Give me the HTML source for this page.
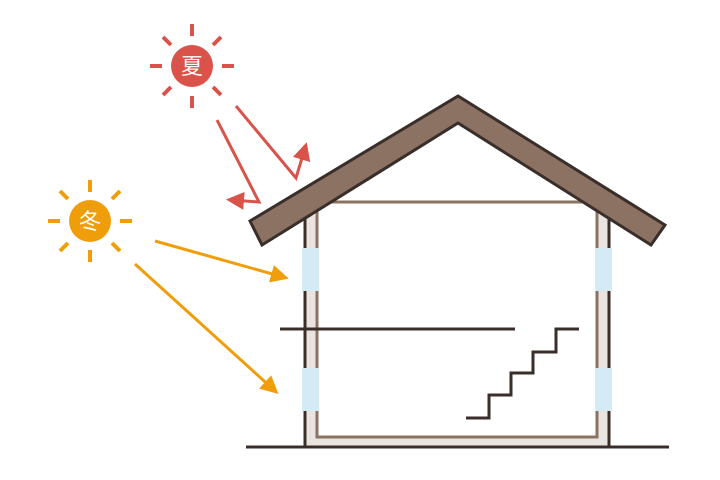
<!DOCTYPE html>
<html><head><meta charset="utf-8"><style>body{margin:0;background:#fff}svg{display:block}</style></head><body>
<svg width="720" height="480" viewBox="0 0 720 480" xmlns="http://www.w3.org/2000/svg">
<defs>
<marker id="ar" markerWidth="6" markerHeight="6" refX="4" refY="3" orient="auto" markerUnits="strokeWidth"><path d="M0,0 L6,3 L0,6 z" fill="#d9534a"/></marker>
<marker id="ao" markerWidth="6" markerHeight="6" refX="4" refY="3" orient="auto" markerUnits="strokeWidth"><path d="M0,0 L6,3 L0,6 z" fill="#f09d0a"/></marker>
</defs>
<!-- walls fill -->
<path d="M304,215 V447 H610 V215 H597 V437 H317 V215 Z" fill="#e9e4df"/>
<polyline points="317,205 317,437 597,437 597,205" fill="none" stroke="#8b7262" stroke-width="3"/>
<line x1="318" y1="202" x2="597" y2="202" stroke="#8b7262" stroke-width="3"/>
<line x1="305" y1="210" x2="305" y2="447" stroke="#3a2e2a" stroke-width="3"/>
<line x1="609" y1="210" x2="609" y2="447" stroke="#3a2e2a" stroke-width="3"/>
<line x1="246" y1="447" x2="669" y2="447" stroke="#3a2e2a" stroke-width="3"/>
<!-- windows -->
<rect x="302" y="248" width="17" height="43" fill="#d4eaf4"/>
<rect x="302" y="368" width="17" height="43" fill="#d4eaf4"/>
<rect x="595" y="248" width="17" height="43" fill="#d4eaf4"/>
<rect x="595" y="368" width="17" height="43" fill="#d4eaf4"/>
<!-- floor & stairs -->
<line x1="280" y1="329" x2="515" y2="329" stroke="#3a2e2a" stroke-width="3"/>
<polyline points="466,418 489,418 489,395 511,395 511,373 533,373 533,352 556,352 556,329 579,329" fill="none" stroke="#3a2e2a" stroke-width="3"/>
<!-- roof -->
<path d="M250,221 L458,96 L665,225 L651,245 L458,123 L262,245 Z" fill="#8b7262" stroke="#3a2e2a" stroke-width="3" stroke-linejoin="miter"/>
<!-- summer sun -->
<g stroke="#d9534a" stroke-width="4">
<line x1="192" y1="24" x2="192" y2="36"/><line x1="192" y1="96" x2="192" y2="108"/>
<line x1="150" y1="66" x2="162" y2="66"/><line x1="222" y1="66" x2="234" y2="66"/>
<line x1="163" y1="37" x2="171" y2="45"/><line x1="213" y1="87" x2="221" y2="95"/>
<line x1="221" y1="37" x2="213" y2="45"/><line x1="171" y1="87" x2="163" y2="95"/>
</g>
<circle cx="192" cy="66" r="21" fill="#d9534a"/>
<text x="192" y="74" font-size="22" fill="#fff" text-anchor="middle" font-family="'Liberation Sans','Noto Sans CJK JP',sans-serif">夏</text>
<polyline points="217,120 259,202 232,200" fill="none" stroke="#d9534a" stroke-width="3" marker-end="url(#ar)"/>
<polyline points="236,106 296,178 305,148" fill="none" stroke="#d9534a" stroke-width="3" marker-end="url(#ar)"/>
<!-- winter sun -->
<g stroke="#f09d0a" stroke-width="4">
<line x1="90" y1="180" x2="90" y2="192"/><line x1="90" y1="250" x2="90" y2="262"/>
<line x1="48" y1="221" x2="60" y2="221"/><line x1="120" y1="221" x2="132" y2="221"/>
<line x1="60" y1="191" x2="68" y2="199"/><line x1="112" y1="243" x2="120" y2="251"/>
<line x1="120" y1="191" x2="112" y2="199"/><line x1="68" y1="243" x2="60" y2="251"/>
</g>
<circle cx="90" cy="221" r="21" fill="#f09d0a"/>
<text x="90" y="229" font-size="22" fill="#fff" text-anchor="middle" font-family="'Liberation Sans','Noto Sans CJK JP',sans-serif">冬</text>
<line x1="155" y1="241" x2="283" y2="277" stroke="#f09d0a" stroke-width="3" marker-end="url(#ao)"/>
<line x1="135" y1="264" x2="274" y2="390" stroke="#f09d0a" stroke-width="3" marker-end="url(#ao)"/>
</svg>
</body></html>
